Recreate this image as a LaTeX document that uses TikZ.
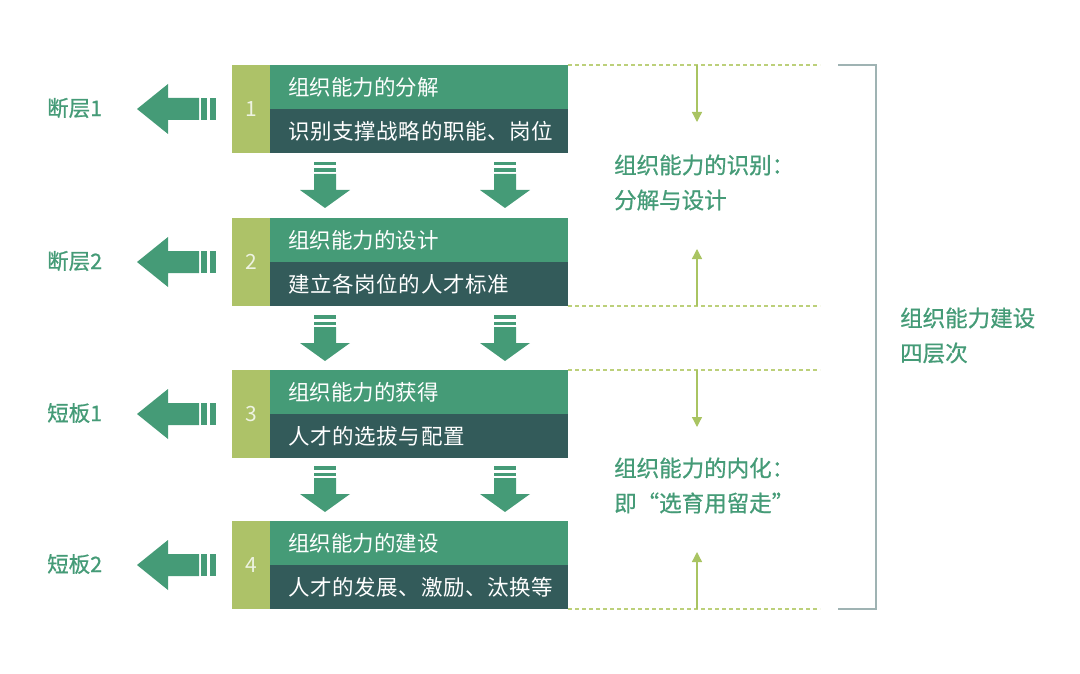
\documentclass[tikz,border=0pt]{standalone}
\usepackage{fontspec}
\setmainfont{Noto Sans CJK SC}
\newfontfamily\subfont[LetterSpace=3]{Noto Sans CJK SC}
\newfontfamily\medfont[FakeBold=0.8]{Noto Sans CJK SC}
\usetikzlibrary{arrows.meta}
\definecolor{midg}{HTML}{459B77}
\definecolor{darkt}{HTML}{335B5A}
\definecolor{lime}{HTML}{ADC268}
\definecolor{dashc}{HTML}{BCD07A}
\definecolor{thinarr}{HTML}{A9C462}
\definecolor{brk}{HTML}{9FB3B3}
\definecolor{numc}{HTML}{EEF3E2}
\tikzset{
  band/.style={inner sep=0pt, outer sep=0pt, anchor=north west, minimum height=44pt},
  title/.style={anchor=west, inner sep=0pt, text=white, font=\fontsize{21.5pt}{24pt}\selectfont},
  sub/.style={anchor=west, inner sep=0pt, text=white, font=\subfont\fontsize{21.5pt}{24pt}\selectfont},
  numtxt/.style={inner sep=0pt, text=numc, font=\fontsize{21pt}{24pt}\selectfont},
  sidelbl/.style={anchor=west, inner sep=0pt, text=midg, font=\medfont\fontsize{21.5pt}{24pt}\selectfont},
  rtxt/.style={anchor=west, inner sep=0pt, text=midg, font=\medfont\fontsize{22.5pt}{24pt}\selectfont},
  dashline/.style={draw=dashc, line width=1.2pt, dash pattern=on 4pt off 3pt},
  thin/.style={draw=thinarr, line width=1.3pt, -{Triangle[width=10pt,length=10pt]}},
  leftarrow/.pic={
    \fill[midg] (0,0) -- (31,-25) -- (31,-11) -- (62,-11) -- (62,11) -- (31,11) -- (31,25) -- cycle;
    \fill[midg] (64,-11) rectangle (70,11);
    \fill[midg] (73,-11) rectangle (79,11);
  },
  downarrow/.pic={
    \fill[midg] (0,0) -- (-25,-18) -- (-11,-18) -- (-11,-34) -- (11,-34) -- (11,-18) -- (25,-18) -- cycle;
    \fill[midg] (-11,-36) rectangle (11,-39.5);
    \fill[midg] (-11,-42.5) rectangle (11,-46);
  }
}
\begin{document}
\begin{tikzpicture}[x=1pt,y=-1pt]
\useasboundingbox (0,0) rectangle (1080,674);
% boxes
\foreach \i/\y in {1/65,2/218,3/370,4/521}{
  \node[band, fill=lime, minimum width=38pt, minimum height=88pt] (s\i) at (232,\y) {};
  \node[band, fill=midg, minimum width=298pt] (t\i) at (270,\y) {};
  \node[band, fill=darkt, minimum width=298pt] (b\i) at (270,\y+44) {};
  \node[numtxt] (n\i) at (s\i.center) {\i};
}
\node[title] (tt1) at ([xshift=18pt]t1.west) {组织能力的分解};
\node[sub] (bt1) at ([xshift=18pt]b1.west) {识别支撑战略的职能、岗位};
\node[title] (tt2) at ([xshift=18pt]t2.west) {组织能力的设计};
\node[sub] (bt2) at ([xshift=18pt]b2.west) {建立各岗位的人才标准};
\node[title] (tt3) at ([xshift=18pt]t3.west) {组织能力的获得};
\node[sub] (bt3) at ([xshift=18pt]b3.west) {人才的选拔与配置};
\node[title] (tt4) at ([xshift=18pt]t4.west) {组织能力的建设};
\node[sub] (bt4) at ([xshift=18pt]b4.west) {人才的发展、激励、汰换等};
% left arrows and labels
\foreach \y in {109,262,414,565}{
  \pic at (137,\y) {leftarrow};
}
\node[sidelbl] (l1) at (47,108) {断层1};
\node[sidelbl] (l2) at (47,261) {断层2};
\node[sidelbl] (l3) at (47,413) {短板1};
\node[sidelbl] (l4) at (47,564) {短板2};
% down arrows
\foreach \y in {208,361,512}{
  \pic at (325,\y) {downarrow};
  \pic at (505,\y) {downarrow};
}
% dashed lines
\coordinate (d1e) at (820,65);
\coordinate (d2e) at (820,306);
\coordinate (d3e) at (820,370);
\coordinate (d4e) at (820,609);
\draw[dashline] (t1.north east) -- (d1e);
\draw[dashline] (b2.south east) -- (d2e);
\draw[dashline] (t3.north east) -- (d3e);
\draw[dashline] (b4.south east) -- (d4e);
% thin arrows
\coordinate (a1s) at (697,65);   \coordinate (a1e) at (697,122);
\coordinate (a2s) at (697,306);  \coordinate (a2e) at (697,249);
\coordinate (a3s) at (697,370);  \coordinate (a3e) at (697,427);
\coordinate (a4s) at (697,609);  \coordinate (a4e) at (697,552);
\draw[thin] (a1s) -- (a1e);
\draw[thin] (a2s) -- (a2e);
\draw[thin] (a3s) -- (a3e);
\draw[thin] (a4s) -- (a4e);
% right texts
\node[rtxt] (r1) at (614,165) {组织能力的识别：};
\node[rtxt] (r2) at (614,200) {分解与设计};
\node[rtxt] (r3) at (614,468) {组织能力的内化：};
\node[rtxt] (r4) at (614,503) {即“选育用留走”};
% bracket
\coordinate (k1) at (838,65);
\coordinate (k2) at (876,65);
\coordinate (k3) at (876,609);
\coordinate (k4) at (838,609);
\draw[brk, line width=1.5pt] (k1) -- (k2) -- (k3) -- (k4);
\node[rtxt] (q1) at (900,318) {组织能力建设};
\node[rtxt] (q2) at (900,353) {四层次};
\end{tikzpicture}
\end{document}
